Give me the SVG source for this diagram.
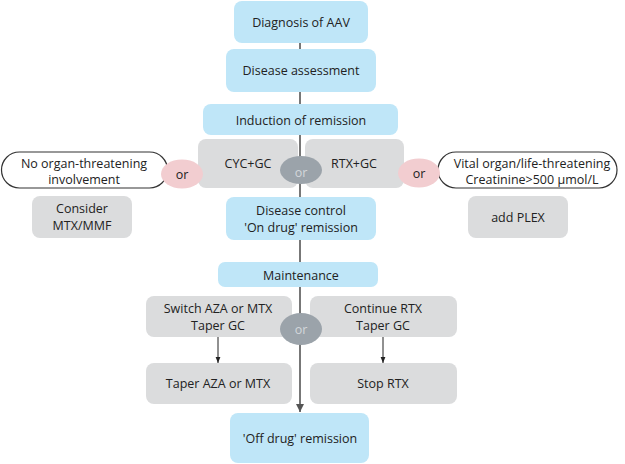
<svg xmlns="http://www.w3.org/2000/svg" width="625" height="464" viewBox="0 0 625 464">
<defs>
<style>
.blue{fill:#bfe6f8}
.gray{fill:#dbdcdd}
.pill{fill:#fff;stroke:#333;stroke-width:1.2}
.pink{fill:#f2cdd0}
.dark{fill:#9ba3aa}
text{font-family:"Open Sans","Liberation Sans",sans-serif;font-size:12.5px;fill:#222;text-anchor:middle;dominant-baseline:central}
.lt{fill:#d3d7db}
.main{stroke:#777;stroke-width:2;fill:none}
.thin{stroke:#222;stroke-width:1;fill:none}
</style>
<marker id="ahMain" viewBox="0 0 10 10" refX="10" refY="5" markerWidth="4" markerHeight="4" orient="auto" markerUnits="strokeWidth"><path d="M0,0 L10,5 L0,10 z" fill="#555"/></marker>
<marker id="ahThin" viewBox="0 0 10 10" refX="10" refY="5" markerWidth="6" markerHeight="6" orient="auto" markerUnits="strokeWidth"><path d="M0,1 L10,5 L0,9 z" fill="#222"/></marker>
</defs>
<g id="connectors">
<line class="main" x1="300" y1="40" x2="300" y2="412" marker-end="url(#ahMain)"/>
<line class="thin" x1="218" y1="337" x2="218" y2="363" marker-end="url(#ahThin)"/>
<line class="thin" x1="383" y1="337" x2="383" y2="363" marker-end="url(#ahThin)"/>
</g>
<g id="diagnosis"><rect class="blue" x="234" y="1" width="134" height="42" rx="8"/><text x="301" y="22">Diagnosis of AAV</text></g>
<g id="assessment"><rect class="blue" x="226" y="49" width="150" height="43" rx="8"/><text x="301" y="70">Disease assessment</text></g>
<g id="induction"><rect class="blue" x="203" y="104" width="195" height="31" rx="8"/><text x="301" y="120">Induction of remission</text></g>
<g id="cyc"><rect class="gray" x="198" y="139" width="100" height="49" rx="8"/><text x="248" y="163">CYC+GC</text></g>
<g id="rtx"><rect class="gray" x="305" y="139" width="99" height="49" rx="8"/><text x="354" y="163">RTX+GC</text></g>
<g id="or-top"><ellipse class="dark" cx="301" cy="170" rx="21" ry="14"/><text class="lt" x="301" y="172">or</text></g>
<g id="no-organ"><rect class="pill" x="1.5" y="152" width="166" height="36" rx="18"/><text x="84" y="163">No organ-threatening</text><text x="84" y="179">involvement</text></g>
<g id="or-left"><ellipse class="pink" cx="182" cy="174" rx="21" ry="14.5"/><text x="182" y="174">or</text></g>
<g id="vital"><rect class="pill" x="438" y="152" width="179" height="36" rx="18"/><text x="532" y="163">Vital organ/life-threatening</text><text x="532" y="179">Creatinine&gt;500 µmol/L</text></g>
<g id="or-right"><ellipse class="pink" cx="419" cy="173" rx="21" ry="14.5"/><text x="419" y="173">or</text></g>
<g id="consider"><rect class="gray" x="32" y="196" width="100" height="42" rx="8"/><text x="82" y="208">Consider</text><text x="82" y="225">MTX/MMF</text></g>
<g id="plex"><rect class="gray" x="468" y="196" width="100" height="42" rx="8"/><text x="518" y="217">add PLEX</text></g>
<g id="control"><rect class="blue" x="226" y="197" width="150" height="43" rx="8"/><text x="301" y="210">Disease control</text><text x="301" y="227">'On drug' remission</text></g>
<g id="maintenance"><rect class="blue" x="218" y="262" width="160" height="25" rx="7"/><text x="301" y="275">Maintenance</text></g>
<g id="switch"><rect class="gray" x="146" y="296" width="146" height="41" rx="8"/><text x="218" y="308">Switch AZA or MTX</text><text x="218" y="325">Taper GC</text></g>
<g id="continue"><rect class="gray" x="310" y="296" width="147" height="41" rx="8"/><text x="383" y="308">Continue RTX</text><text x="383" y="325">Taper GC</text></g>
<g id="or-bottom"><ellipse class="dark" cx="301" cy="329" rx="21" ry="16"/><text class="lt" x="301" y="329">or</text></g>
<g id="taper"><rect class="gray" x="146" y="363" width="146" height="41" rx="8"/><text x="218" y="383">Taper AZA or MTX</text></g>
<g id="stop"><rect class="gray" x="310" y="363" width="147" height="41" rx="8"/><text x="383" y="383">Stop RTX</text></g>
<g id="offdrug"><rect class="blue" x="230" y="413" width="139" height="50" rx="8"/><text x="300" y="438">'Off drug' remission</text></g>
</svg>
